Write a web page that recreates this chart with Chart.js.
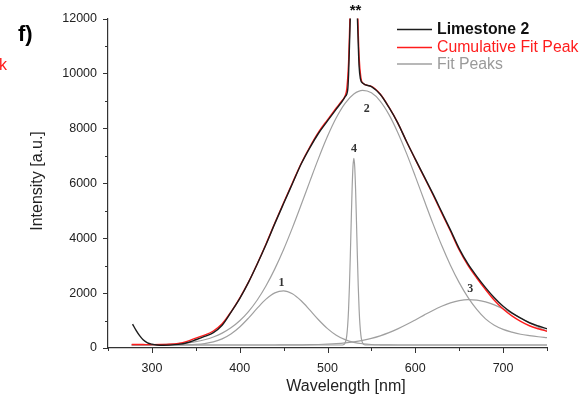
<!DOCTYPE html>
<html><head><meta charset="utf-8">
<script src="https://cdn.jsdelivr.net/npm/chart.js@4.4.1/dist/chart.umd.min.js"></script>
<style>html,body{margin:0;padding:0;background:#fff;}#wrap{width:583px;height:396px;position:relative;}</style>
</head><body><div id="wrap"><canvas id="c" width="583" height="396"></canvas></div>
<script>
// ---- data ----
const seriesNames = ["Limestone 2", "Cumulative Fit Peak", "Fit Peaks"];

const blackWl = [278,282,286,290,295,300,306,313,320,330,340,350,360,370,380,390,400,410,420,430,440,450,460,470,480,490,500,510,516,520,523,524,525,526,528,530,532,534,535,536,537.5,540,550,560,570,580,590,600,610,620,630,640,650,660,670,680,690,700,710,720,730,740,750];
const blackI  = [870,640,450,300,190,140,110,100,105,130,190,300,420,560,830,1300,1800,2390,3060,3770,4530,5260,5980,6700,7300,7830,8270,8700,8950,9150,9400,9950,11000,12100,14300,15400,14300,12100,11100,10250,9800,9650,9520,9240,8760,8200,7520,6880,6250,5620,4960,4300,3620,3060,2610,2200,1830,1520,1280,1090,920,800,700];

const redWl = [277,290,300,310,320,330,340,350,360,370,380,390,400,410,420,430,440,450,460,470,480,490,500,510,516,520,522,524,525,526,528,530,532,534,535,536,538,540,550,560,570,580,590,600,610,620,630,640,650,660,670,680,690,700,710,720,730,740,750];
const redI  = [130,125,122,125,135,165,240,360,470,620,880,1310,1820,2400,3070,3790,4550,5290,6010,6720,7330,7870,8310,8740,8990,9180,9450,10400,11400,12600,15000,16200,15000,12600,11500,10600,9850,9650,9530,9250,8770,8200,7520,6870,6230,5590,4920,4260,3570,3010,2550,2130,1740,1420,1170,970,810,700,610];

const fitWl = [277,280,290,300,310,320,330,340,350,360,370,380,390,400,410,420,430,440,450,460,470,480,490,500,510,520,530,540,550,560,570,580,590,600,610,620,630,640,650,660,670,680,690,700,710,720,730,740,750];
const peak1I = [110,110,110,110,110,111,113,118,132,162,222,331,509,764,1090,1449,1779,2008,2080,1974,1719,1377,1020,707,467,305,207,154,128,117,112,110,110,110,110,110,110,110,110,110,110,110,110,110,110,110,110,110,110];
const peak2I = [113,113,115,120,127,139,158,188,234,302,401,541,734,992,1326,1749,2267,2882,3587,4374,5215,6078,6924,7708,8383,8908,9248,9380,9292,8992,8500,7851,7088,6251,5388,4539,3741,3016,2381,1844,1403,1060,830,680,580,500,450,410,380];
const peak3I = [110,110,110,110,110,110,110,110,110,110,110,110,110,110,110,110,110,110,112,113,116,120,127,139,157,184,223,277,349,443,558,696,853,1023,1198,1368,1519,1641,1724,1760,1744,1680,1572,1431,1267,1093,920,757,611];

const peak4Wl = [277,500,516,518,519,520,521,522,523,524,525,526,527,528,529,530,531,532,533,534,535,536,537,538,539,540,541,542,544,600,750];
const peak4I  = [110,110,110,119,136,179,275,470,827,1412,2268,3372,4609,5768,6604,6910,6604,5768,4609,3372,2268,1412,827,470,275,179,136,119,110,110,110];

const xTickValues = [250,300,350,400,450,500,550,600,650,700,750];
const xLabelValues = [300,400,500,600,700];
const yTickValues = [0,1000,2000,3000,4000,5000,6000,7000,8000,9000,10000,11000,12000];
const yLabelValues = [0,2000,4000,6000,8000,10000,12000];

const peakNames = ["1","2","3","4"];
const peakLabelWl = [447.7,544.8,662.5,530.3];
const peakLabelI  = [2353,8697,2152,7255];

const xTitle = "Wavelength [nm]";
const yTitle = "Intensity [a.u.]";
const panelLabel = "f)";
const starLabel = "**";
const starWl = 532;

// ---- chart ----
const pts = (xs, ys) => xs.map((x, i) => ({x: x, y: ys[i]}));
const SANS = "'Liberation Sans', Arial, sans-serif";
const SERIF = "'Liberation Serif', 'Times New Roman', serif";
const BLACK = '#1c1c1c', RED = '#ff1c1c', GRAY = '#a0a0a0';

function line(data, color, w) {
  return {data: data, borderColor: color, borderWidth: w, pointRadius: 0, fill: false, cubicInterpolationMode: 'monotone'};
}

const annot = {
  id: 'annot',
  afterDraw(chart) {
    const {ctx, chartArea: a} = chart;
    const x = chart.scales.x, y = chart.scales.y;
    ctx.save();
    ctx.strokeStyle = '#333'; ctx.lineWidth = 1;
    for (const v of xTickValues) {
      const px = Math.round(x.getPixelForValue(v)) + 0.5;
      const len = xLabelValues.includes(v) ? 5 : 3;
      ctx.beginPath(); ctx.moveTo(px, a.bottom); ctx.lineTo(px, a.bottom + len); ctx.stroke();
    }
    for (const v of yTickValues) {
      const py = Math.round(y.getPixelForValue(v)) + 0.5;
      const len = yLabelValues.includes(v) ? 5 : 3;
      ctx.beginPath(); ctx.moveTo(a.left, py); ctx.lineTo(a.left - len, py); ctx.stroke();
    }
    ctx.fillStyle = '#222';
    ctx.font = '16px ' + SANS;
    ctx.textAlign = 'center'; ctx.textBaseline = 'alphabetic';
    ctx.fillText(xTitle, 346, 391);
    ctx.save();
    ctx.translate(38, 181); ctx.rotate(-Math.PI / 2);
    ctx.textBaseline = 'middle';
    ctx.fillText(yTitle, 0, 0);
    ctx.restore();
    ctx.textAlign = 'left';
    ctx.font = 'bold 22px ' + SANS; ctx.fillStyle = '#000';
    ctx.fillText(panelLabel, 18, 41);
    ctx.font = '16px ' + SANS; ctx.fillStyle = RED;
    ctx.fillText('k', -1, 70);
    const ly = [29.5, 47.5, 64];
    const lc = [BLACK, RED, GRAY];
    const tc = ['#111', RED, '#9a9a9a'];
    const lf = ['bold 15.8px ' + SANS, '15.8px ' + SANS, '15.8px ' + SANS];
    for (let i = 0; i < 3; i++) {
      ctx.strokeStyle = lc[i]; ctx.lineWidth = 1.5;
      ctx.beginPath(); ctx.moveTo(397, ly[i]); ctx.lineTo(432, ly[i]); ctx.stroke();
      ctx.font = lf[i]; ctx.fillStyle = tc[i]; ctx.textBaseline = 'middle';
      ctx.fillText(seriesNames[i], 437, ly[i] + 0.5);
    }
    ctx.font = 'bold 12px ' + SERIF; ctx.fillStyle = '#333';
    ctx.textAlign = 'center'; ctx.textBaseline = 'middle';
    for (let i = 0; i < peakNames.length; i++) {
      ctx.fillText(peakNames[i], x.getPixelForValue(peakLabelWl[i]), y.getPixelForValue(peakLabelI[i]));
    }
    ctx.font = 'bold 15px ' + SANS; ctx.fillStyle = '#111'; ctx.textBaseline = 'alphabetic';
    ctx.fillText(starLabel, x.getPixelForValue(starWl), 15);
    ctx.restore();
  }
};

new Chart(document.getElementById('c'), {
  type: 'line',
  data: {
    datasets: [
      Object.assign({label: seriesNames[0]}, line(pts(blackWl, blackI), BLACK, 1.4)),
      Object.assign({label: seriesNames[1]}, line(pts(redWl, redI), RED, 1.4)),
      Object.assign({label: seriesNames[2]}, line(pts(fitWl, peak1I), GRAY, 1.2)),
      Object.assign({label: seriesNames[2]}, line(pts(fitWl, peak2I), GRAY, 1.2)),
      Object.assign({label: seriesNames[2]}, line(pts(fitWl, peak3I), GRAY, 1.2)),
      Object.assign({label: seriesNames[2]}, line(pts(peak4Wl, peak4I), GRAY, 1.2))
    ]
  },
  options: {
    responsive: false, animation: false, devicePixelRatio: 1,
    layout: {padding: {left: 0, right: 36, top: 15, bottom: 0}},
    plugins: {legend: {display: false}, tooltip: {enabled: false}},
    scales: {
      x: {
        type: 'linear', min: 250, max: 750,
        afterBuildTicks: s => { s.ticks = xTickValues.map(v => ({value: v})); },
        afterFit: s => { s.height = 48; },
        ticks: {autoSkip: false, maxRotation: 0, padding: 13, color: '#222', font: {family: SANS, size: 12.5},
                callback: v => xLabelValues.includes(v) ? String(v) : ''},
        grid: {display: true, drawOnChartArea: false, drawTicks: false},
        border: {display: true, color: '#333', width: 1.2}
      },
      y: {
        type: 'linear', min: 0, max: 12000,
        afterBuildTicks: s => { s.ticks = yLabelValues.map(v => ({value: v})); },
        afterFit: s => { s.width = 108; },
        ticks: {autoSkip: false, padding: 11, color: '#222', font: {family: SANS, size: 12.5},
                callback: v => String(v)},
        grid: {display: true, drawOnChartArea: false, drawTicks: false},
        border: {display: true, color: '#333', width: 1.2}
      }
    }
  },
  plugins: [annot]
});
</script></body></html>
